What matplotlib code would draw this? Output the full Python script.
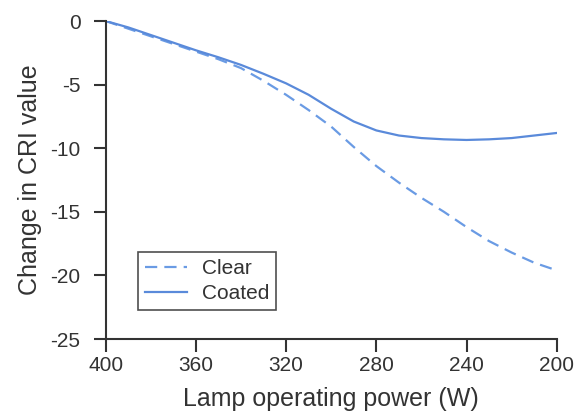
import matplotlib
matplotlib.use("Agg")
import matplotlib.pyplot as plt

# values
power = [400, 390, 380, 370, 360, 350, 340, 330, 320, 310, 300,
         290, 280, 270, 260, 250, 240, 230, 220, 210, 200]
clear = [0, -0.6, -1.2, -1.8, -2.4, -3.0, -3.7, -4.7, -5.8, -7.0, -8.3,
         -9.9, -11.4, -12.7, -13.9, -15.0, -16.2, -17.3, -18.2, -19.0, -19.6]
coated = [0, -0.5, -1.1, -1.7, -2.3, -2.85, -3.45, -4.15, -4.9, -5.8, -6.9,
          -7.9, -8.6, -9.0, -9.2, -9.3, -9.35, -9.3, -9.2, -9.0, -8.8]

x_ticks = [400, 360, 320, 280, 240, 200]
y_ticks = [0, -5, -10, -15, -20, -25]

plt.rcParams['font.family'] = ['Liberation Sans', 'DejaVu Sans']
plt.rcParams['axes.unicode_minus'] = False

fig = plt.figure(figsize=(5.74, 4.12), dpi=100)
ax = fig.add_axes([0.184, 0.177, 0.786, 0.772])

ax.plot(power, clear, color='#6a9be4', lw=1.6, dashes=(5.5, 3.2), label='Clear')
ax.plot(power, coated, color='#5a8ada', lw=1.6, label='Coated')

ax.set_xlim(400, 200)
ax.set_ylim(-25, 0)
ax.set_xticks(x_ticks)
ax.set_yticks(y_ticks)

for side in ['top', 'right']:
    ax.spines[side].set_visible(False)
for side in ['left', 'bottom']:
    ax.spines[side].set_color('#333333')
    ax.spines[side].set_linewidth(1.5)

ax.tick_params(direction='out', length=9, width=1.5, color='#333333',
               labelsize=15, labelcolor='#333333')
ax.tick_params(axis='x', pad=3)
ax.tick_params(axis='y', pad=9)

ax.set_xlabel('Lamp operating power (W)', fontsize=18, color='#333333', labelpad=8.5)
ax.set_ylabel('Change in CRI value', fontsize=18, color='#333333', labelpad=6)

leg = ax.legend(loc='lower left', bbox_to_anchor=(0.072, 0.09), fontsize=15,
                frameon=True, fancybox=False, handlelength=2.0,
                borderpad=0.35, labelspacing=0.3, borderaxespad=0,
                handletextpad=0.7)
leg.get_frame().set_edgecolor('#222222')
leg.get_frame().set_linewidth(1.2)
for t in leg.get_texts():
    t.set_color('#333333')

fig.savefig('out.png', dpi=100)
